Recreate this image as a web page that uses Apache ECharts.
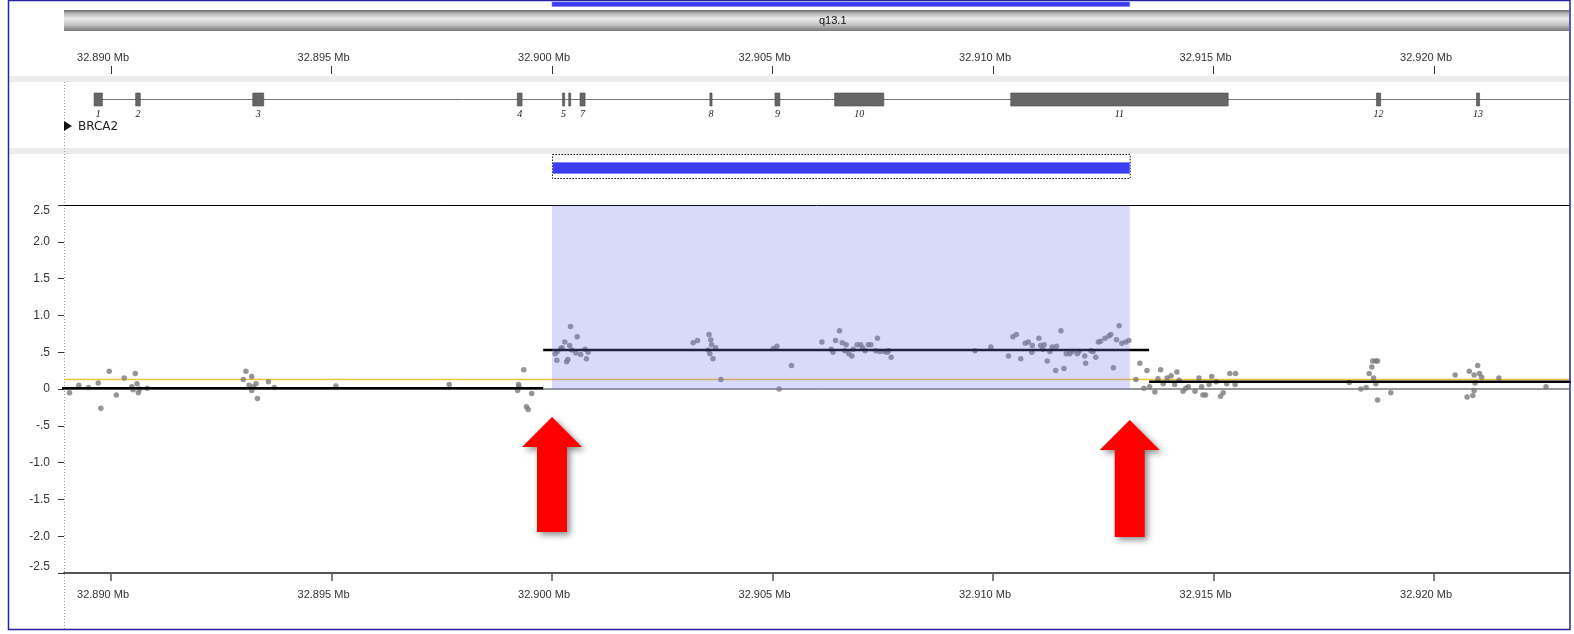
<!DOCTYPE html>
<html><head><meta charset="utf-8">
<script src="https://cdn.jsdelivr.net/npm/echarts@6/dist/echarts.min.js"></script>
<style>html,body{margin:0;padding:0;background:#fff}#c{width:1574px;height:634px}</style>
</head><body><div id="c"></div><script>
// ---- data ----
const viewMin = 32.888934, viewMax = 32.923061;           // Mb, visible locus
const tickValues = [32.890, 32.895, 32.900, 32.905, 32.910, 32.915, 32.920];
const yTickValues = [-2.5, -2, -1.5, -1, -0.5, 0, 0.5, 1, 1.5, 2, 2.5];
const bandName = 'q13.1';
const regionStart = 32.9000, regionEnd = 32.9131;         // region of interest
const geneName = 'BRCA2';
const geneStart = 32.889611, geneEnd = 32.973809;
const exonStarts = [32.889617, 32.890559, 32.893214, 32.899213, 32.900238, 32.900379, 32.900636, 32.903580, 32.905056, 32.906409, 32.910402, 32.918695, 32.920964];
const exonEnds   = [32.889804, 32.890664, 32.893462, 32.899321, 32.900287, 32.900419, 32.900750, 32.903629, 32.905167, 32.907524, 32.915333, 32.918790, 32.921033];
const exonLabels = ['1','2','3','4','5','','7','8','9','10','11','12','13'];
const pointPos = [
 32.88906,32.88927,32.88949,32.88971,32.88977,32.88996,32.89012,32.89030,32.89047,32.89050,32.89055,32.89059,32.89062,32.89065,32.89082,
 32.89300,32.89306,32.89313,32.89319,32.89319,32.89323,32.89329,32.89332,32.89357,32.89370,
 32.89510,32.89767,32.89924,32.89925,32.89922,32.89936,32.89954,32.89942,32.89946,
 32.90042,32.90057,32.90029,32.90040,32.90020,32.90012,32.90007,32.90011,32.90033,32.90036,32.90054,32.90065,32.90075,32.90082,32.90078,32.90045,32.90023,
 32.90320,32.90330,32.90356,32.90360,32.90362,32.90371,32.90354,32.90358,32.90365,32.90383,
 32.90502,32.90510,32.90543,32.90515,
 32.90612,32.90633,32.90637,32.90643,32.90652,32.90658,32.90667,32.90664,32.90673,32.90680,32.90683,32.90692,32.90700,32.90704,32.90710,32.90717,32.90723,32.90738,32.90734,32.90743,32.90753,32.90760,32.90763,32.90769,
 32.90959,32.90995,32.91035,32.91045,32.91053,32.91063,32.91073,32.91080,32.91089,32.91088,32.91104,32.91108,32.91116,32.91113,32.91123,32.91129,32.91134,32.91144,32.91154,32.91142,32.91161,32.91166,32.91174,32.91180,32.91191,32.91195,32.91208,32.91210,32.91222,32.91227,32.91233,32.91239,32.91244,32.91254,32.91263,32.91267,32.91286,32.91280,32.91292,32.91301,32.91308,32.91273,
 32.91333,32.91349,32.91324,32.91342,32.91355,32.91367,32.91374,32.91380,32.91386,32.91395,32.91404,32.91417,32.91412,32.91422,32.91431,32.91437,32.91443,32.91458,32.91467,32.91473,32.91476,32.91482,32.91490,32.91496,32.91506,32.91516,32.91522,32.91530,32.91537,32.91550,32.91549,
 32.91808,32.91834,32.91846,32.91853,32.91859,32.91861,32.91868,32.91872,32.91863,32.91868,32.91872,32.91902,
 32.92048,32.92080,32.92091,32.92099,32.92103,32.92108,32.92093,32.92091,32.92088,32.92075,32.92147,32.92254
];
const pointVal = [
 -0.05,0.05,0.02,0.08,-0.26,0.24,-0.08,0.15,0.03,-0.01,0.21,0.07,-0.05,0.00,0.01,
 0.13,0.24,0.05,0.17,-0.02,0.03,0.07,-0.13,0.10,0.02,
 0.04,0.06,0.06,0.03,-0.02,0.26,-0.06,-0.24,-0.28,
 0.85,0.71,0.64,0.59,0.55,0.51,0.48,0.39,0.37,0.40,0.49,0.47,0.54,0.50,0.41,0.53,0.56,
 0.63,0.66,0.74,0.67,0.60,0.56,0.53,0.48,0.41,0.13,
 0.55,0.58,0.32,0.00,
 0.64,0.54,0.50,0.66,0.79,0.63,0.60,0.52,0.48,0.45,0.54,0.60,0.60,0.56,0.52,0.60,0.60,0.69,0.52,0.51,0.51,0.50,0.52,0.43,
 0.52,0.57,0.45,0.71,0.74,0.41,0.62,0.64,0.59,0.50,0.69,0.59,0.60,0.54,0.38,0.51,0.57,0.58,0.79,0.25,0.28,0.48,0.48,0.51,0.48,0.51,0.45,0.35,0.52,0.51,0.43,0.64,0.65,0.69,0.72,0.74,0.86,0.67,0.62,0.64,0.66,0.29,
 0.35,0.25,0.13,0.01,0.03,-0.04,0.14,0.26,0.07,0.15,0.18,0.23,0.06,0.12,-0.03,0.01,0.03,-0.03,0.15,0.03,-0.08,-0.08,0.06,0.17,0.10,-0.10,-0.05,0.07,0.21,0.21,0.06,
 0.09,0.00,0.02,0.21,0.30,0.38,0.38,0.38,0.15,0.07,-0.15,-0.05,
 0.19,0.24,0.19,0.32,0.21,0.16,0.08,-0.02,-0.09,-0.11,0.15,0.03
];
const segStarts = [32.8880, 32.89980, 32.91354];
const segEnds   = [32.89980, 32.91354, 32.9240];
const segValues = [0.01, 0.53, 0.10];
const refValue = 0.13;

// ---- chart ----
const FONT = 'Liberation Sans';
const chart = echarts.init(document.getElementById('c'));
const L = 64, R = 5;
const hiddenX = i => ({type:'value', gridIndex:i, min:viewMin, max:viewMax, show:false});
const hiddenY = i => ({type:'value', gridIndex:i, min:0, max:1, show:false});
const fmtMb = v => v.toFixed(3) + ' Mb';
const fmtY = v => { if (Math.abs(v) < 1e-9) return '0'; if (Math.abs(v) < 1) return (v < 0 ? '-' : '') + '.5'; return v.toFixed(1); };

const points = pointPos.map((p, i) => [p, pointVal[i]]);
const exonData = exonStarts.map((s, i) => [s, exonEnds[i]]);

const series = [
  { type:'custom', xAxisIndex:0, yAxisIndex:0, data:[[regionStart, regionEnd]],
    renderItem:(params, api) => {
      const a = api.coord([api.value(0), 0]), b = api.coord([api.value(1), 0]);
      const cs = params.coordSys;
      return {type:'rect', shape:{x:a[0], y:cs.y + 2, width:b[0]-a[0], height:4.5}, style:{fill:'#3c3cf2', stroke:'#7070ff', lineWidth:0.5}};
    }},
  { type:'custom', xAxisIndex:2, yAxisIndex:2, data:[[geneStart, geneEnd]],
    renderItem:(params, api) => {
      const cs = params.coordSys;
      const a = api.coord([api.value(0), 0.5]), b = api.coord([api.value(1), 0.5]);
      const x1 = Math.max(a[0], cs.x), x2 = Math.min(b[0], cs.x + cs.width);
      return {type:'line', shape:{x1:x1, y1:a[1]-1.5, x2:x2, y2:a[1]-1.5}, style:{stroke:'#777', lineWidth:1}};
    }},
  { type:'custom', xAxisIndex:2, yAxisIndex:2, data:exonData,
    renderItem:(params, api) => {
      const a = api.coord([api.value(0), 0.5]), b = api.coord([api.value(1), 0.5]);
      const w = Math.max(b[0]-a[0], 2);
      const lab = exonLabels[params.dataIndex];
      return {type:'group', children:[
        {type:'rect', shape:{x:a[0], y:a[1]-8, width:w, height:13}, style:{fill:'#666', stroke:'#4a4a4a', lineWidth:0.6}},
        {type:'text', style:{text:lab, x:a[0]+w/2, y:a[1]+13, align:'center', verticalAlign:'middle', fill:'#222', font:'italic 10px "Liberation Serif"'}}
      ]};
    }},
  { type:'custom', xAxisIndex:3, yAxisIndex:3, data:[[regionStart, regionEnd]],
    renderItem:(params, api) => {
      const a = api.coord([api.value(0), 0]), b = api.coord([api.value(1), 0]);
      const cs = params.coordSys;
      return {type:'group', children:[
        {type:'rect', shape:{x:a[0]+0.5, y:cs.y+0.5, width:b[0]-a[0], height:24}, style:{fill:null, stroke:'#111', lineWidth:1, lineDash:[1.5,1.5]}},
        {type:'rect', shape:{x:a[0]+1, y:cs.y+8.5, width:b[0]-a[0]-1, height:11}, style:{fill:'#3c3cf2', stroke:'#6a6aff', lineWidth:0.5}}
      ]};
    }},
  { type:'line', xAxisIndex:4, yAxisIndex:4, data:[[viewMin, 0], [viewMax, 0]], showSymbol:false, lineStyle:{color:'#333', width:1}, z:3, silent:true },
  { type:'line', xAxisIndex:4, yAxisIndex:4, data:[[viewMin, refValue], [viewMax, refValue]], showSymbol:false, lineStyle:{color:'#f2c23a', width:1.6}, z:4, silent:true },
  { type:'scatter', xAxisIndex:4, yAxisIndex:4, data:points, symbolSize:5.5, itemStyle:{color:'#7b7b7b'}, z:5 },
  ...segValues.map((v, i) => ({ type:'line', xAxisIndex:4, yAxisIndex:4, data:[[segStarts[i], v], [segEnds[i], v]], showSymbol:false, lineStyle:{color:'#000', width:2.5}, z:6, silent:true })),
  { type:'custom', xAxisIndex:4, yAxisIndex:4, data:[[regionStart, regionEnd]], z:10, silent:true,
    renderItem:(params, api) => {
      const a = api.coord([api.value(0), 2.5]), b = api.coord([api.value(1), 0]);
      return {type:'rect', shape:{x:a[0], y:a[1]+0.5, width:b[0]-a[0], height:b[1]-a[1]-0.5}, style:{fill:'rgba(120,120,240,0.28)'}};
    }}
];

chart.setOption({
  animation:false,
  backgroundColor:'#fff',
  textStyle:{fontFamily:FONT},
  grid:[
    {left:L, right:R, top:0, height:32},
    {left:L, right:R, top:66, height:10},
    {left:L, right:R, top:86, height:30},
    {left:L, right:R, top:154, height:25},
    {left:L, right:R, top:205, bottom:61}
  ],
  xAxis:[
    hiddenX(0),
    {type:'value', gridIndex:1, min:viewMin, max:viewMax, position:'top',
      axisLine:{show:false, onZero:false}, splitLine:{show:false},
      axisTick:{show:true, inside:true, length:8, customValues:tickValues, lineStyle:{color:'#333'}},
      axisLabel:{customValues:tickValues, formatter:fmtMb, margin:3, padding:[0,16,0,0], fontSize:11, color:'#333', fontFamily:FONT}},
    hiddenX(2), hiddenX(3),
    {type:'value', gridIndex:4, min:viewMin, max:viewMax, position:'bottom',
      axisLine:{show:true, onZero:false, lineStyle:{color:'#555', width:2}}, splitLine:{show:false},
      axisTick:{show:true, length:8, customValues:tickValues, lineStyle:{color:'#555', width:1.5}},
      axisLabel:{customValues:tickValues, formatter:fmtMb, margin:16, padding:[0,16,0,0], fontSize:11, color:'#333', fontFamily:FONT}},
    {type:'value', gridIndex:4, min:viewMin, max:viewMax, position:'top',
      axisLine:{show:true, onZero:false, lineStyle:{color:'#000', width:1}}, axisTick:{show:false}, axisLabel:{show:false}, splitLine:{show:false}}
  ],
  yAxis:[
    hiddenY(0), hiddenY(1), hiddenY(2), hiddenY(3),
    {type:'value', gridIndex:4, min:-2.5, max:2.5, interval:0.5,
      axisLine:{show:false}, splitLine:{show:false},
      axisTick:{show:true, length:6, lineStyle:{color:'#333'}},
      axisLabel:{formatter:fmtY, margin:14, fontSize:12, color:'#333', fontFamily:FONT,
        verticalAlignMaxLabel:'top', verticalAlignMinLabel:'bottom'}}
  ],
  series:series
});

// annotations positioned from the data through the axes
const gx = v => chart.convertToPixel({xAxisIndex:4}, v);
const xs = gx(regionStart), xe = gx(regionEnd);
const leftPx = gx(viewMin), rightPx = gx(viewMax);
function arrow(tx, ty, len){
  return {type:'polygon', z:100,
    shape:{points:[[tx,ty],[tx+30,ty+30],[tx+15,ty+30],[tx+15,ty+len],[tx-15,ty+len],[tx-15,ty+30],[tx-30,ty+30]]},
    style:{fill:'#ff0000', shadowBlur:6, shadowOffsetX:3, shadowOffsetY:3, shadowColor:'rgba(0,0,0,0.45)'}};
}
chart.setOption({
  graphic:[
    {type:'rect', z:-10, shape:{x:8, y:76, width:1562, height:6}, style:{fill:'#ececec'}},
    {type:'rect', z:-10, shape:{x:8, y:148, width:1562, height:6}, style:{fill:'#ececec'}},
    {type:'rect', z:1, shape:{x:leftPx, y:10, width:rightPx-leftPx, height:21},
      style:{fill:new echarts.graphic.LinearGradient(0,0,0,1,[
        {offset:0,color:'#6a6a6a'},{offset:0.15,color:'#b0b0b0'},{offset:0.4,color:'#ebebeb'},{offset:0.7,color:'#c4c4c4'},{offset:1,color:'#767676'}])}},
    {type:'text', z:2, style:{text:bandName, x:819, y:21, verticalAlign:'middle', fill:'#111', font:'11px "Liberation Sans"'}},
    {type:'line', z:0, shape:{x1:leftPx+0.5, y1:82, x2:leftPx+0.5, y2:630}, style:{stroke:'#999', lineWidth:1, lineDash:[1,2]}},
    {type:'polygon', z:2, shape:{points:[[leftPx,121],[leftPx+8,126],[leftPx,131]]}, style:{fill:'#111'}},
    {type:'text', z:2, style:{text:geneName, x:leftPx+14, y:127, verticalAlign:'middle', fill:'#222', font:'12px "DejaVu Sans"'}},
    arrow(xs, 417, 115),
    arrow(xe, 420, 117),
    {type:'rect', z:200, shape:{x:8.5, y:0.5, width:1561.5, height:629}, style:{fill:null, stroke:'#2424a0', lineWidth:1.5}}
  ]
});
</script></body></html>
